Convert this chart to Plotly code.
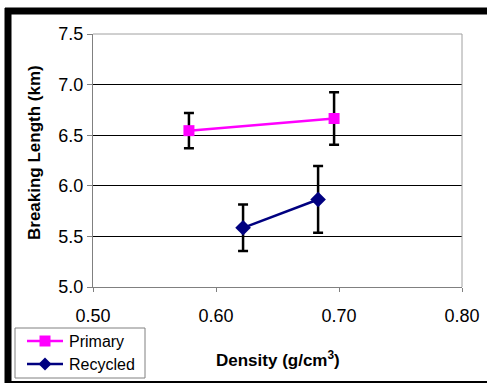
import plotly.graph_objects as go

# Breaking length vs. sheet density, mean ± error
primary_density = [0.578, 0.696]
primary_length = [6.545, 6.665]
primary_err = [0.175, 0.26]

recycled_density = [0.622, 0.683]
recycled_length = [5.585, 5.865]
recycled_err = [0.23, 0.33]

x_ticks = [0.50, 0.60, 0.70, 0.80]
y_ticks = [5.0, 5.5, 6.0, 6.5, 7.0, 7.5]

series_names = ["Primary", "Recycled"]
series_colors = ["#FF00FF", "#000080"]

W, H = 487, 384
L, R, T, B = 93, 25, 34, 97
PW, PH = W - L - R, H - T - B


def px(x):
    return (x - L) / PW


def py(y):
    return 1 - (y - T) / PH


FONT = "Liberation Sans, Arial, sans-serif"

fig = go.Figure()
fig.add_trace(go.Scatter(
    x=primary_density, y=primary_length, name=series_names[0], mode="lines+markers",
    line=dict(color=series_colors[0], width=2.5),
    marker=dict(symbol="square", size=11, color=series_colors[0]),
    error_y=dict(type="data", array=primary_err, color="black", thickness=2.5, width=5),
))
fig.add_trace(go.Scatter(
    x=recycled_density, y=recycled_length, name=series_names[1], mode="lines+markers",
    line=dict(color=series_colors[1], width=2.5),
    marker=dict(symbol="diamond", size=12, color=series_colors[1]),
    error_y=dict(type="data", array=recycled_err, color="black", thickness=2.5, width=5),
))


def pline(x0, y0, x1, y1, color, width):
    return dict(type="line", xref="paper", yref="paper",
                x0=px(x0), x1=px(x1), y0=py(y0), y1=py(y1),
                line=dict(color=color, width=width))


shapes = [
    # light border on top and right of plot area
    pline(L, T, L + PW, T, "#a0a0a0", 1),
    pline(L + PW, T, L + PW, T + PH, "#a0a0a0", 1),
    # outer chart frame
    pline(5, 11, 495, 11, "black", 7),
    pline(8, 8, 8, 383, "black", 7),
    pline(5, 382, 495, 382, "black", 2),
    # legend box
    dict(type="rect", xref="paper", yref="paper", x0=px(15), x1=px(145), y0=py(328), y1=py(378),
         line=dict(color="#808080", width=1), fillcolor="white"),
]

annotations = [
    dict(text="<b>Density (g/cm<sup>3</sup>)</b>", xref="paper", yref="paper",
         x=px(278), y=py(359), showarrow=False, font=dict(family=FONT, size=17, color="black"),
         xanchor="center", yanchor="middle"),
    dict(text="<b>Breaking Length (km)</b>", xref="paper", yref="paper",
         x=px(34), y=py(153), showarrow=False, textangle=-90,
         font=dict(family=FONT, size=17, color="black"),
         xanchor="center", yanchor="middle"),
]

# legend entries: line sample, marker glyph and label
legend_rows = [341, 364]
for name, color, ry, sym in zip(series_names, series_colors, legend_rows, ["square", "diamond"]):
    shapes.append(pline(27, ry, 63, ry, color, 2.5))
    cx = 45
    if sym == "square":
        shapes.append(dict(type="rect", xref="paper", yref="paper",
                           x0=px(cx - 5.5), x1=px(cx + 5.5), y0=py(ry - 5.5), y1=py(ry + 5.5),
                           line=dict(width=0), fillcolor=color))
    else:
        d = 6.5
        path = (f"M {px(cx)} {py(ry - d)} L {px(cx + d)} {py(ry)} "
                f"L {px(cx)} {py(ry + d)} L {px(cx - d)} {py(ry)} Z")
        shapes.append(dict(type="path", xref="paper", yref="paper", path=path,
                           line=dict(width=0), fillcolor=color))
    annotations.append(dict(text=name, xref="paper", yref="paper", x=px(67), y=py(ry),
                            showarrow=False, xanchor="left", yanchor="middle",
                            font=dict(family=FONT, size=16, color="black")))

fig.update_layout(
    width=W, height=H, autosize=False,
    margin=dict(l=L, r=R, t=T, b=B, autoexpand=False),
    paper_bgcolor="white", plot_bgcolor="white",
    font=dict(family=FONT, size=18, color="black"),
    showlegend=False,
    shapes=shapes, annotations=annotations,
    xaxis=dict(range=[0.5, 0.8], tickvals=x_ticks, ticktext=[f"{v:.2f}" for v in x_ticks],
               showgrid=False, zeroline=False, showline=True, linecolor="#808080", linewidth=1,
               ticks="outside", ticklen=4, tickcolor="#808080", tickfont=dict(size=18),
               ticklabelstandoff=8),
    yaxis=dict(range=[5.0, 7.5], tickvals=y_ticks, ticktext=[f"{v:.1f}" for v in y_ticks],
               showgrid=True, gridcolor="black", gridwidth=1, zeroline=False,
               showline=True, linecolor="#808080", linewidth=1,
               ticks="outside", ticklen=5, tickcolor="#808080", tickfont=dict(size=18)),
)

fig.write_html("out.html")
